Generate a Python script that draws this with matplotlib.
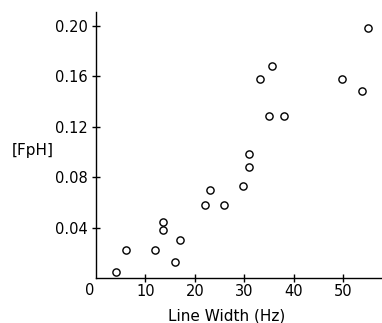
import matplotlib
matplotlib.use('Agg')
import matplotlib.pyplot as plt

# line width (Hz) vs [FpH]
width_hz = [4.0, 6.0, 11.9, 13.5, 13.5, 15.9, 17.0, 22.0, 23.0, 25.9,
            29.8, 31.0, 31.0, 33.1, 35.0, 35.6, 38.0, 49.8, 53.8, 54.9]
fph = [0.005, 0.022, 0.022, 0.044, 0.038, 0.013, 0.030, 0.058, 0.070, 0.058,
       0.073, 0.088, 0.098, 0.158, 0.128, 0.168, 0.128, 0.158, 0.148, 0.198]

xticks = [10, 20, 30, 40, 50]
yticks = [0.04, 0.08, 0.12, 0.16, 0.20]
ytick_labels = ['0.04', '0.08', '0.12', '0.16', '0.20']

plt.rcParams['font.family'] = 'DejaVu Sans'
fig = plt.figure(figsize=(3.82, 3.23), dpi=100)
ax = fig.add_axes([0.2513, 0.1393, 0.7487, 0.8235])

ax.plot(width_hz, fph, linestyle='none', marker='o', markersize=5.2,
        markerfacecolor='white', markeredgecolor='black', markeredgewidth=1.0,
        clip_on=False)

ax.set_xlim(0, 57.8)
ax.set_ylim(0, 0.2107)
ax.spines['top'].set_visible(False)
ax.spines['right'].set_visible(False)
ax.spines['left'].set_linewidth(1.0)
ax.spines['bottom'].set_linewidth(1.0)

ax.set_xticks(xticks)
ax.set_xticklabels([str(t) for t in xticks])
ax.set_yticks(yticks)
ax.set_yticklabels(ytick_labels)
ax.tick_params(axis='both', direction='inout', length=6, width=1.0,
               labelsize=10.5, pad=3)
ax.tick_params(axis='x', pad=1)
ax.text(-1.2, -0.004, '0', ha='center', va='top', fontsize=10.5)

ax.set_xlabel('Line Width (Hz)', fontsize=11, labelpad=4)
ax.xaxis.set_label_coords(0.455, -0.115)
ax.set_ylabel('[FpH]', fontsize=11, rotation=0, ha='center', va='center')
ax.yaxis.set_label_coords(-0.222, 0.48)

fig.savefig('out.png', dpi=100)
